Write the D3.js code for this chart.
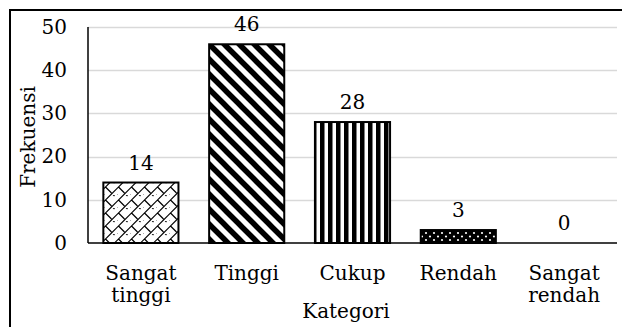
<!DOCTYPE html>
<html><head><meta charset="utf-8">
<script src="https://cdn.jsdelivr.net/npm/d3@7"></script>
<style>body{margin:0;background:#fff}svg{display:block}</style>
</head><body><svg id="c" width="622" height="327"></svg>
<script>
const categories = [["Sangat","tinggi"],["Tinggi"],["Cukup"],["Rendah"],["Sangat","rendah"]];
const values = [14, 46, 28, 3, 0];
const yTicks = [0, 10, 20, 30, 40, 50];
const patterns = ["brick", "diag", "vert", "dots", "none"];

const FONT = "DejaVu Serif";
const svg = d3.select("#c");
const W = 622, H = 327;
const m = {l: 88, r: 5, t: 27, b: 84};
const x = d3.scaleBand().domain(d3.range(values.length)).range([m.l, W - m.r]).paddingInner(0.29).paddingOuter(0.145);
const y = d3.scaleLinear().domain([0, 50]).range([H - m.b, m.t]);

const defs = svg.append("defs");
const pb = defs.append("pattern").attr("id","brick").attr("patternUnits","userSpaceOnUse").attr("width",13).attr("height",13);
pb.append("rect").attr("width",13).attr("height",13).attr("fill","#fff");
pb.append("path").attr("d","M-1,7.5 L7.5,-1 M5.5,14 L14,5.5 M1.5,5 L7.5,11 M8,-1.5 L10.5,1 M-1.5,11.5 L1,14").attr("stroke","#000").attr("stroke-width",1.2).attr("fill","none");
const pd = defs.append("pattern").attr("id","diag").attr("patternUnits","userSpaceOnUse").attr("width",15).attr("height",15);
pd.append("rect").attr("width",15).attr("height",15).attr("fill","#fff");
pd.append("path").attr("d","M-4,-4 L19,19 M-4,11 L4,19 M11,-4 L19,4").attr("stroke","#000").attr("stroke-width",5.5);
const pv = defs.append("pattern").attr("id","vert").attr("patternUnits","userSpaceOnUse").attr("width",8).attr("height",8);
pv.append("rect").attr("width",8).attr("height",8).attr("fill","#fff");
pv.append("rect").attr("x",0).attr("width",4.5).attr("height",8).attr("fill","#000");
const pt = defs.append("pattern").attr("id","dots").attr("patternUnits","userSpaceOnUse").attr("width",8).attr("height",7);
pt.append("rect").attr("width",8).attr("height",7).attr("fill","#000");
pt.append("circle").attr("cx",2).attr("cy",2).attr("r",1.1).attr("fill","#fff");
pt.append("circle").attr("cx",6).attr("cy",5.5).attr("r",1.1).attr("fill","#fff");

svg.append("rect").attr("x",10).attr("y",10).attr("width",640).attr("height",340).attr("fill","none").attr("stroke","#000").attr("stroke-width",2);

svg.append("g").selectAll("line").data(yTicks.filter(d => d > 0)).join("line")
  .attr("x1", m.l).attr("x2", W - m.r).attr("y1", d => Math.round(y(d)) + 0.5).attr("y2", d => Math.round(y(d)) + 0.5)
  .attr("stroke", "#d9d9d9").attr("stroke-width", 1.5);

const tg = svg.append("g").style("font-family", FONT).style("font-size", "20px").attr("fill", "#000");

tg.append("g").selectAll("text").data(yTicks).join("text")
  .attr("x", m.l - 21).attr("y", d => y(d)).attr("dy", "0.34em").attr("text-anchor", "end").text(d => d);

svg.append("g").selectAll("rect").data(values).join("rect")
  .attr("x", (d,i) => x(i)).attr("width", x.bandwidth())
  .attr("y", d => y(d)).attr("height", d => y(0) - y(d))
  .attr("fill", (d,i) => patterns[i] === "none" ? "none" : `url(#${patterns[i]})`)
  .attr("stroke", d => d > 0 ? "#000" : "none").attr("stroke-width", 2);

tg.append("g").selectAll("text").data(values).join("text")
  .attr("x", (d,i) => x(i) + x.bandwidth()/2).attr("y", d => y(d) - 13)
  .attr("text-anchor","middle").text(d => d);

svg.append("line").attr("x1", m.l).attr("x2", m.l).attr("y1", y(50)).attr("y2", y(0)).attr("stroke","#000").attr("stroke-width",1.5);
svg.append("line").attr("x1", m.l).attr("x2", W - m.r).attr("y1", y(0)).attr("y2", y(0)).attr("stroke","#000").attr("stroke-width",1.5);

const cl = tg.append("g").selectAll("text").data(categories).join("text")
  .attr("text-anchor","middle")
  .attr("transform", (d,i) => `translate(${x(i) + x.bandwidth()/2},280)`);
cl.selectAll("tspan").data(d => d).join("tspan").attr("x",0).attr("y",(d,j) => j*22).text(d => d);

tg.append("text").attr("x", 346).attr("y", 318).attr("text-anchor","middle").text("Kategori");
tg.append("text").attr("transform","translate(35,137) rotate(-90)").attr("text-anchor","middle").text("Frekuensi");
</script></body></html>
